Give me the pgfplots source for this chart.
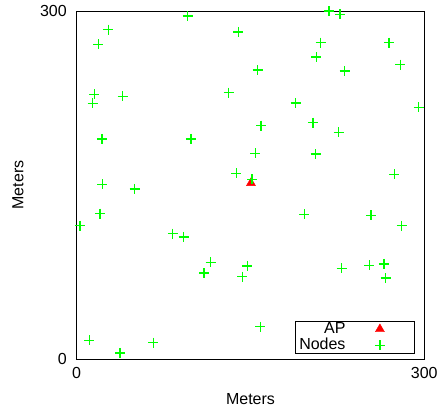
\documentclass[border=0pt]{standalone}
\usepackage{pgfplots}
\pgfplotsset{compat=1.18}
\usepackage{fontspec}
\setmainfont{Liberation Sans}
\definecolor{nodegreen}{RGB}{0,255,0}
\definecolor{apred}{RGB}{255,0,0}
\newcommand{\bigf}{\fontsize{16}{19}\selectfont}
\begin{document}
\bigf
\begin{tikzpicture}
\path[use as bounding box] (-76.7pt,-54pt) rectangle (363.3pt,359pt);
\begin{axis}[
  scale only axis,
  width=347.6pt, height=348pt,
  xmin=0, xmax=300, ymin=0, ymax=300,
  xtick={0,300}, ytick={0,300},
  major tick length=0pt,
  axis line style={black, line width=1pt},
  clip=false,
  /pgf/number format/assume math mode=true,
  tick label style={font=\bigf, inner sep=0pt},
  xticklabel style={anchor=center, yshift=-14pt},
  yticklabel style={anchor=east, xshift=-9.7pt},
  xlabel={Meters}, ylabel={Meters},
  label style={font=\bigf},
  xlabel style={at={(axis description cs:0.5,-0.115)}, anchor=center},
  ylabel style={at={(axis description cs:-0.169,0.5)}, anchor=center},
  legend plot pos=right,
  legend cell align=right,
  legend image code/.code={\path (0pt,0pt) (60pt,0pt); \draw[mark repeat=2,mark phase=2,#1] plot coordinates {(0pt,0pt) (30pt,0pt) (60pt,0pt)};},
  legend style={font=\bigf, at={(rel axis cs:0.9724,0.0152)}, anchor=south east,
    draw=black, line width=0.8pt, inner xsep=4pt, inner ysep=1pt,
    nodes={inner sep=0pt}, column sep=4pt, row sep=2.5pt},
]
\addplot[only marks, mark=triangle*, mark size=5.2pt, color=apred, mark options={line width=0.4pt}]
  coordinates {(150.4,151.7)};
\addlegendentry{AP}
\addplot[only marks, mark=+, mark size=5pt, color=nodegreen, mark options={line width=1.3pt}]
  coordinates {
(217.7,300.0) (227.2,297.2) (95.8,295.7) (27.3,283.9) (139.5,281.9)
(18.6,271.3) (210.6,272.7) (269.5,272.7) (206.8,260.3) (156.2,249.1)
(231.3,248.3) (279.3,253.7) (15.2,228.2) (13.8,220.4) (39.7,226.5)
(131.2,229.7) (189.0,220.7) (295.2,217.0) (159.1,201.1) (203.9,203.7)
(226.1,195.4) (21.8,189.7) (98.6,189.7) (154.1,177.3) (206.3,176.7)
(137.7,160.0) (151.3,154.9) (274.1,159.2) (22.1,150.6) (50.1,146.6)
(20.1,125.3) (196.4,124.7) (254.0,123.9) (280.5,114.9) (2.8,114.9)
(82.9,108.0) (92.3,105.2) (115.6,83.4) (109.9,74.1) (147.2,80.2)
(142.9,71.1) (228.7,78.2) (252.5,80.8) (265.2,81.9) (266.7,69.8)
(158.5,27.8) (10.9,16.1) (66.1,14.1) (37.4,5.2)
  };
\addlegendentry{Nodes}
\end{axis}
\end{tikzpicture}
\end{document}
